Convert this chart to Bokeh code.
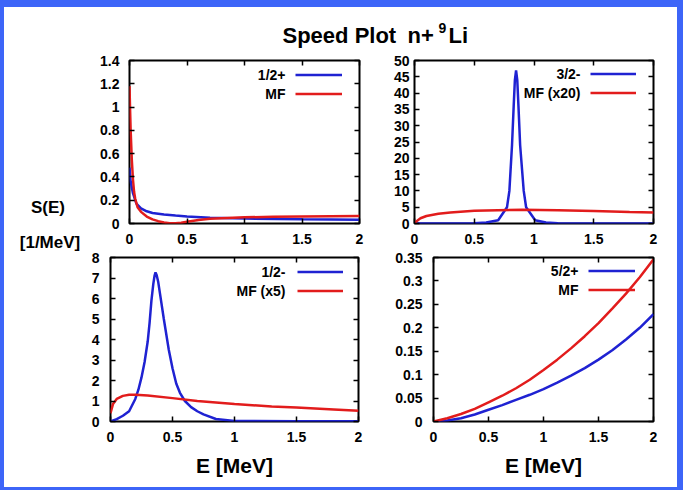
from bokeh.plotting import figure
from bokeh.layouts import row, column
from bokeh.models import (Range1d, LinearAxis, FixedTicker, PrintfTickFormatter,
                          Legend, LegendItem, Label)
from bokeh.core.properties import value
from bokeh.embed import file_html
from bokeh.resources import INLINE

# ---------------- data ----------------
title_main = "Speed Plot"
title_nucl = "n+"
title_mass = "9"
title_elem = "Li"
ylabel_top = "S(E)"
ylabel_unit = "[1/MeV]"
xlabel = "E [MeV]"

x_ticks = [0, 0.5, 1, 1.5, 2]

# panel 1: 1/2+
p1_labels = ["1/2+", "MF"]
p1_yticks = [0, 0.2, 0.4, 0.6, 0.8, 1.0, 1.2, 1.4]
p1_blue_E = [0, 0.01, 0.03, 0.06, 0.1, 0.15, 0.2, 0.3, 0.4, 0.5, 0.7, 1.0, 1.5, 2.0]
p1_blue_S = [0.48, 0.36, 0.26, 0.17, 0.13, 0.105, 0.09, 0.078, 0.068, 0.06, 0.05, 0.042, 0.036, 0.032]
p1_red_E = [0, 0.005, 0.01, 0.02, 0.03, 0.04, 0.05, 0.07, 0.1, 0.15, 0.2, 0.25, 0.3,
            0.35, 0.4, 0.45, 0.5, 0.6, 0.7, 0.85, 1.0, 1.25, 1.5, 1.75, 2.0]
p1_red_S = [1.18, 0.98, 0.8, 0.55, 0.38, 0.27, 0.21, 0.14, 0.10, 0.06, 0.035, 0.02, 0.008,
            0.003, 0.002, 0.006, 0.015, 0.03, 0.04, 0.048, 0.053, 0.058, 0.061, 0.063, 0.064]

# panel 2: 3/2-
p2_labels = ["3/2-", "MF (x20)"]
p2_yticks = [0, 5, 10, 15, 20, 25, 30, 35, 40, 45, 50]
p2_blue_E = [0, 0.3, 0.5, 0.6, 0.7, 0.774, 0.794, 0.816, 0.83, 0.84, 0.85, 0.86, 0.87,
             0.884, 0.914, 0.934, 1.01, 1.1, 1.2, 1.5, 2.0]
p2_blue_S = [0, 0.02, 0.1, 0.3, 1.0, 5, 10, 24, 36, 44, 47, 44, 36,
             24, 10, 5, 1.0, 0.3, 0.1, 0.03, 0.01]
p2_red_E = [0, 0.02, 0.05, 0.1, 0.2, 0.3, 0.5, 0.7, 0.9, 1.2, 1.5, 1.8, 2.0]
p2_red_S = [0.0, 0.8, 1.6, 2.3, 3.0, 3.4, 3.9, 4.1, 4.2, 4.1, 3.8, 3.5, 3.4]

# panel 3: 1/2-
p3_labels = ["1/2-", "MF (x5)"]
p3_yticks = [0, 1, 2, 3, 4, 5, 6, 7, 8]
p3_blue_E = [0, 0.05, 0.1, 0.15, 0.2, 0.225, 0.25, 0.275, 0.3, 0.315, 0.33, 0.345, 0.355,
             0.363, 0.372, 0.385, 0.4, 0.43, 0.47, 0.5, 0.53, 0.56, 0.6, 0.65, 0.7, 0.75,
             0.85, 1.0, 1.5, 2.0]
p3_blue_S = [0, 0.12, 0.28, 0.5, 1.1, 1.55, 2.15, 2.9, 3.9, 4.8, 5.9, 6.7, 7.1,
             7.27, 7.15, 6.8, 6.2, 5.0, 3.5, 2.6, 1.85, 1.4, 1.0, 0.7, 0.5, 0.35,
             0.12, 0.03, 0.01, 0.01]
p3_red_E = [0, 0.02, 0.05, 0.1, 0.15, 0.2, 0.3, 0.5, 0.7, 1.0, 1.3, 1.5, 1.8, 2.0]
p3_red_S = [0.4, 0.85, 1.1, 1.25, 1.3, 1.3, 1.27, 1.14, 1.0, 0.85, 0.73, 0.68, 0.59, 0.52]

# panel 4: 5/2+
p4_labels = ["5/2+", "MF"]
p4_yticks = [0, 0.05, 0.1, 0.15, 0.2, 0.25, 0.3, 0.35]
p4_blue_E = [0, 0.125, 0.25, 0.375, 0.5, 0.625, 0.75, 0.875, 1.0, 1.125, 1.25, 1.375,
             1.5, 1.625, 1.75, 1.875, 2.0]
p4_blue_S = [0, 0.002, 0.007, 0.015, 0.025, 0.035, 0.046, 0.057, 0.069, 0.083, 0.098, 0.114,
             0.132, 0.152, 0.175, 0.2, 0.229]
p4_red_E = [0, 0.125, 0.25, 0.375, 0.5, 0.625, 0.75, 0.875, 1.0, 1.125, 1.25, 1.375,
            1.5, 1.625, 1.75, 1.875, 2.0]
p4_red_S = [0, 0.007, 0.016, 0.027, 0.041, 0.055, 0.071, 0.089, 0.11, 0.132, 0.156, 0.182,
            0.21, 0.241, 0.273, 0.308, 0.346]

# ---------------- style ----------------
FONT = "Liberation Sans"
BLUE = "#1f22d2"
RED = "#e21c1c"
BORDER = "#3d65f8"


def make_axis(ticks, show_labels, standoff=0):
    ax = LinearAxis(ticker=FixedTicker(ticks=ticks, minor_ticks=[]),
                    formatter=PrintfTickFormatter(format="%g" if show_labels else ""))
    ax.axis_line_color = None
    ax.major_tick_in = 5
    ax.major_tick_out = 0
    ax.major_tick_line_color = "black"
    ax.major_tick_line_width = 1.5
    ax.minor_tick_line_color = None
    if show_labels:
        ax.major_label_text_font = FONT
        ax.major_label_text_font_style = "bold"
        ax.major_label_text_font_size = "14px"
        ax.major_label_text_color = "black"
        ax.major_label_standoff = standoff
    else:
        ax.major_label_text_font_size = "1px"
        ax.major_label_standoff = 0
    return ax


def panel(width, height, borders, ymax, yticks, blue, red, labels, leg_screen,
          y_standoff, with_xlabel=False):
    bl, br, bt, bb = borders
    fw = width - bl - br
    fh = height - bt - bb
    p = figure(width=width, height=height, x_range=Range1d(0, 2), y_range=Range1d(0, ymax),
               output_backend="svg", toolbar_location=None,
               x_axis_type=None, y_axis_type=None,
               min_border_left=bl, min_border_right=br,
               min_border_top=bt, min_border_bottom=bb)
    p.background_fill_color = "white"
    p.border_fill_color = "white"
    p.outline_line_color = "black"
    p.outline_line_width = 2

    xb = make_axis(x_ticks, True, 10)
    if with_xlabel:
        xb.axis_label = xlabel
        xb.axis_label_text_font = FONT
        xb.axis_label_text_font_style = "bold"
        xb.axis_label_text_font_size = "21px"
        xb.axis_label_text_color = "black"
        xb.axis_label_standoff = 9
    p.add_layout(xb, "below")
    p.add_layout(make_axis(yticks, True, y_standoff), "left")
    p.add_layout(make_axis(x_ticks, False), "above")
    p.add_layout(make_axis(yticks, False), "right")

    rb = p.line(blue[0], blue[1], line_color=BLUE, line_width=2.5)
    rr = p.line(red[0], red[1], line_color=RED, line_width=2.5)

    # legend: text then line sample (gnuplot style)
    line_x0, line_w, row1_y, text_right = leg_screen  # offsets from frame left/top
    row_h = 19
    leg_top = row1_y - row_h / 2
    leg = Legend(items=[LegendItem(label=value(" "), renderers=[rb]),
                        LegendItem(label=value(" "), renderers=[rr])],
                 location=(line_x0, fh - leg_top - 2 * row_h),
                 glyph_width=line_w, glyph_height=row_h, label_width=0, label_height=row_h,
                 label_standoff=0, label_text_font_size="1px", padding=0, spacing=0,
                 margin=0, border_line_color=None, background_fill_alpha=0)
    p.add_layout(leg)
    for i, lab in enumerate(labels):
        sy = row1_y + i * row_h
        p.add_layout(Label(x=2 * text_right / fw, y=ymax * (fh - sy) / fh, text=lab,
                           text_align="right", text_baseline="middle",
                           text_font=FONT, text_font_style="bold",
                           text_font_size="14px", text_color="black"))
    return p


# top row height 196 (frame 163), bottom row height 238 (frame 164)
p1 = panel(305, 196, (45, 30, 7, 26), 1.4, p1_yticks, (p1_blue_E, p1_blue_S),
           (p1_red_E, p1_red_S), p1_labels, (166, 47, 14, 156), 10)
p2 = panel(288, 196, (25, 24, 7, 26), 50, p2_yticks, (p2_blue_E, p2_blue_S),
           (p2_red_E, p2_red_S), p2_labels, (176, 46, 13, 166), 5)
p3 = panel(305, 238, (26, 31, 8, 66), 8, p3_yticks, (p3_blue_E, p3_blue_S),
           (p3_red_E, p3_red_S), p3_labels, (187, 46, 14, 175), 11, True)
p4 = panel(288, 238, (44, 24, 8, 66), 0.35, p4_yticks, (p4_blue_E, p4_blue_S),
           (p4_red_E, p4_red_S), p4_labels, (155, 47, 13, 145), 11, True)


def blank(width, height):
    f = figure(width=width, height=height, x_range=Range1d(0, width), y_range=Range1d(height, 0),
               output_backend="svg", toolbar_location=None, x_axis_type=None, y_axis_type=None,
               min_border=0)
    f.outline_line_color = None
    f.background_fill_color = "white"
    f.border_fill_color = "white"
    return f


title_fig = blank(673, 46)
for txt, x, y, size in [(title_main, 278, 28, "22px"), (title_nucl, 403, 28, "22px"),
                        (title_mass, 434, 20, "14px"), (title_elem, 444, 28, "22px")]:
    title_fig.add_layout(Label(x=x, y=y, text=txt, text_align="left", text_baseline="alphabetic",
                               text_font=FONT, text_font_style="bold", text_font_size=size,
                               text_color="black"))

left_fig = blank(80, 434)
left_fig.add_layout(Label(x=43.5, y=154, text=ylabel_top, text_align="center", text_baseline="middle",
                          text_font=FONT, text_font_style="bold", text_font_size="17px",
                          text_color="black"))
left_fig.add_layout(Label(x=45.5, y=189, text=ylabel_unit, text_align="center", text_baseline="middle",
                          text_font=FONT, text_font_style="bold", text_font_size="17px",
                          text_color="black"))

grid = column(row(p1, p2, spacing=0), row(p3, p4, spacing=0), spacing=0)
inner = column(title_fig, row(left_fig, grid, spacing=0), spacing=0, margin=(7, 6, 3, 4),
               styles={"background-color": "white"})
page = column(inner, spacing=0, styles={"background-color": BORDER})

open("out.html", "w").write(file_html(page, INLINE))
